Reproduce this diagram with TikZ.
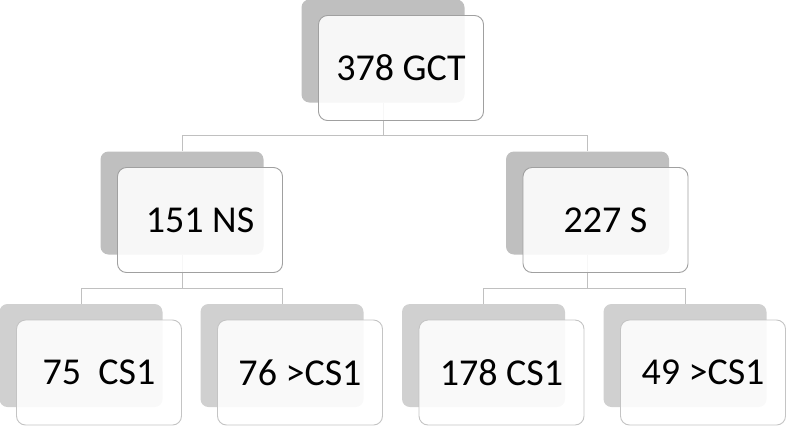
\documentclass[tikz,border=0pt]{standalone}
\usepackage{fontspec}
\setmainfont{Carlito}
\usepackage{tikz}
\usetikzlibrary{positioning}
\definecolor{backdark}{HTML}{BFBFBF}
\definecolor{backlight}{HTML}{D0D0D0}
\definecolor{framedark}{HTML}{A0A0A0}
\definecolor{framelight}{HTML}{C4C4C4}
\definecolor{linkcolor}{HTML}{C0C0C0}

\begin{document}
\begin{tikzpicture}[x=1pt, y=1pt,
    every node/.style={font=\fontsize{38}{40}\selectfont, align=center},
    backbox/.style={fill=backdark, rounded corners=8pt, inner sep=0pt,
                    minimum width=163pt, minimum height=103pt},
    frontbox/.style={draw=framedark, fill=white, fill opacity=0.88,
                     text opacity=1, rounded corners=9pt, line width=0.9pt,
                     inner sep=0pt, minimum width=165pt, minimum height=105pt},
    link/.style={draw=linkcolor, line width=0.9pt}
]
    \useasboundingbox (0,0) rectangle (786,-426);

    % Row 0: total
    \node[backbox] (gctb) at (383,-51) {};

    % Row 1: NS / S
    \node[backbox] (nsb) at (182,-203) {};
    \node[backbox] (sb)  at (587.5,-203) {};

    % Row 2: CS1 split
    \node[backbox, fill=backlight] (nsoneb)  at (81,-355.5) {};
    \node[backbox, fill=backlight] (nsmoreb) at (282,-355.5) {};
    \node[backbox, fill=backlight] (soneb)   at (483.5,-355.5) {};
    \node[backbox, fill=backlight] (smoreb)  at (685,-355.5) {};

    % Links
    \draw[link] (gctb.south) -- ++(0,-33) -| (nsb.north);
    \draw[link] (gctb.south) -- ++(0,-33) -| (sb.north);
    \draw[link] (nsb.south) -- ++(0,-34) -| (nsoneb.north);
    \draw[link] (nsb.south) -- ++(0,-34) -| (nsmoreb.north);
    \draw[link] (sb.south) -- ++(0,-34) -| (soneb.north);
    \draw[link] (sb.south) -- ++(0,-34) -| (smoreb.north);

    % Front cards
    \node[frontbox] (gct) at ([xshift=18pt, yshift=-17pt]gctb.center) {378 GCT};
    \node[frontbox] (ns)  at ([xshift=18pt, yshift=-17pt]nsb.center) {151 NS};
    \node[frontbox] (s)   at ([xshift=18pt, yshift=-17pt]sb.center) {227 S};
    \node[frontbox, draw=framelight] (nsone)  at ([xshift=18pt, yshift=-17pt]nsoneb.center) {75~ CS1};
    \node[frontbox, draw=framelight] (nsmore) at ([xshift=18pt, yshift=-17pt]nsmoreb.center) {76 >CS1};
    \node[frontbox, draw=framelight] (sone)   at ([xshift=18pt, yshift=-17pt]soneb.center) {178 CS1};
    \node[frontbox, draw=framelight] (smore)  at ([xshift=18pt, yshift=-17pt]smoreb.center) {49 >CS1};
\end{tikzpicture}
\end{document}
